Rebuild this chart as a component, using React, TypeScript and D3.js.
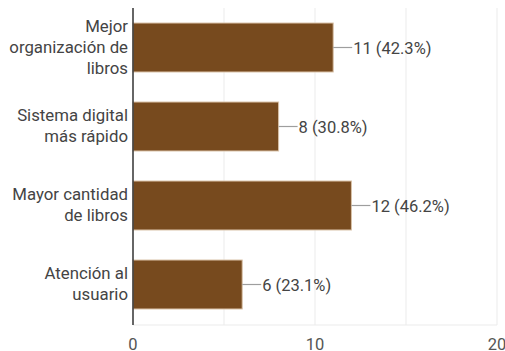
import React from "react";
import * as d3 from "d3";

const categories: string[][] = [
  ["Mejor", "organización de", "libros"],
  ["Sistema digital", "más rápido"],
  ["Mayor cantidad", "de libros"],
  ["Atención al", "usuario"],
];
const values: number[] = [11, 8, 12, 6];
const percents: string[] = ["42.3%", "30.8%", "46.2%", "23.1%"];
const gridTicks: number[] = [0, 5, 10, 15, 20];
const tickLabels: number[] = [0, 10, 20];

const W = 505;
const H = 351;
const FONT = "Roboto, 'Noto Sans', sans-serif";

export default function App() {
  const x = d3.scaleLinear().domain([0, 20]).range([133, 497]);
  const ids = categories.map((_, i) => String(i));
  const y = d3
    .scaleBand<string>()
    .domain(ids)
    .range([8, 324])
    .paddingInner(0.38)
    .paddingOuter(0.19);
  const bottom = 325;
  const lineH = 21;

  return (
    <svg
      width={W}
      height={H}
      style={{ position: "absolute", left: 0, top: 0, background: "#fff" }}
      fontFamily={FONT}
    >
      <rect x={0} y={0} width={W} height={H} fill="#fff" />
      {gridTicks.map((t) =>
        t === 0 ? null : (
          <line
            key={t}
            x1={x(t)}
            x2={x(t)}
            y1={8}
            y2={bottom}
            stroke="#ebebeb"
            strokeWidth={1}
          />
        )
      )}
      <line x1={x(0)} x2={x(20)} y1={bottom} y2={bottom} stroke="#ebebeb" strokeWidth={1} />
      {values.map((v, i) => {
        const by = y(ids[i])!;
        const bh = y.bandwidth();
        const cy = by + bh / 2;
        const xe = x(v);
        const lines = categories[i];
        const firstBase = cy - ((lines.length - 1) * lineH) / 2 + 5;
        return (
          <g key={i}>
            <rect
              x={x(0)}
              y={by}
              width={xe - x(0)}
              height={bh}
              fill="#774a1e"
              stroke="#d9c2a8"
              strokeWidth={1}
            />
            <line x1={xe} x2={xe + 19} y1={cy} y2={cy} stroke="#9e9e9e" strokeWidth={1.2} />
            <text x={xe + 20} y={cy + 6.5} fontSize={16.5} fill="#444">
              {`${v} (${percents[i]})`}
            </text>
            <text fontSize={16.8} fill="#444" textAnchor="end">
              {lines.map((l, j) => (
                <tspan key={j} x={128} y={firstBase + j * lineH}>
                  {l}
                </tspan>
              ))}
            </text>
          </g>
        );
      })}
      <line x1={x(0)} x2={x(0)} y1={8} y2={bottom} stroke="#333" strokeWidth={1.5} />
      {tickLabels.map((t) => (
        <text key={t} x={x(t)} y={350} fontSize={16.5} fill="#555" textAnchor="middle">
          {t}
        </text>
      ))}
    </svg>
  );
}
